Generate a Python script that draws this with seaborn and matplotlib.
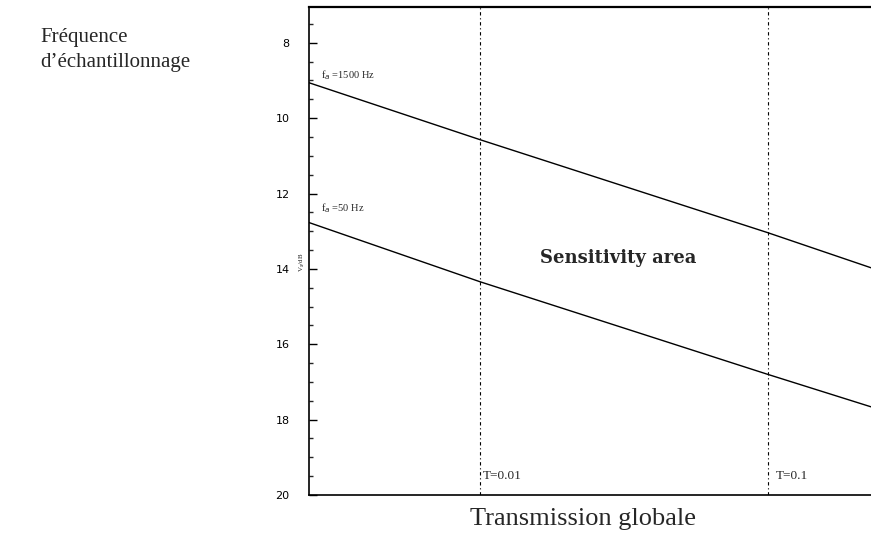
import matplotlib
matplotlib.use("Agg")
import matplotlib.pyplot as plt
from matplotlib.ticker import MultipleLocator, NullLocator
import seaborn as sns
import pandas as pd

# Data
T_values = [0.00255, 0.01, 0.1, 0.228]
snr_1500 = [9.06, 10.57, 13.04, 13.97]
snr_50 = [12.77, 14.34, 16.80, 17.66]
curve_labels = ["f$_{a}$ =1500 Hz", "f$_{a}$ =50 Hz"]
curve_label_y = [8.85, 12.38]
vlines_T = [0.01, 0.1]
vline_labels = ["T=0.01", "T=0.1"]
y_ticks = [8, 10, 12, 14, 16, 18, 20]

df = pd.DataFrame({
    "T": T_values * 2,
    "snr": snr_1500 + snr_50,
    "curve": [curve_labels[0]] * len(T_values) + [curve_labels[1]] * len(T_values),
})

sns.set_theme(style="white")
plt.rcParams["font.family"] = ["Liberation Serif", "DejaVu Serif"]

fig = plt.figure(figsize=(8.71, 5.37), dpi=100)
ax = fig.add_axes([309 / 871, 1 - 495 / 537, 1 - 309 / 871, (495 - 7) / 537])

sns.lineplot(data=df, x="T", y="snr", units="curve", estimator=None,
             color="black", linewidth=1.0, ax=ax, legend=False)

ax.set_xscale("log")
ax.set_xlim(T_values[0], T_values[-1])
ax.set_ylim(20, 7.05)

for t, lab, off in zip(vlines_T, vline_labels, [1.02, 1.065]):
    ax.axvline(t, color="black", linewidth=0.8, linestyle=(0, (3, 2.5, 1, 2.5)))
    ax.text(t * off, 19.5, lab, fontsize=9.5, ha="left", va="center")

for lab, yv in zip(curve_labels, curve_label_y):
    ax.text(T_values[0] * 1.1, yv, lab, fontsize=7.5, ha="left", va="center")

ax.text(0.0301, 13.7, "Sensitivity area", fontsize=13, fontweight="bold",
        fontfamily="DejaVu Serif", ha="center", va="center")

ax.set_yticks(y_ticks)
ax.set_yticklabels([str(v) for v in y_ticks], fontsize=8,
                   fontfamily="DejaVu Sans")
ax.yaxis.set_minor_locator(MultipleLocator(0.5))
ax.xaxis.set_major_locator(NullLocator())
ax.xaxis.set_minor_locator(NullLocator())
ax.tick_params(axis="y", which="major", direction="in", length=6, width=1,
               pad=14, colors="black", left=True)
ax.tick_params(axis="y", which="minor", direction="in", length=3, width=1, left=True)
ax.set_xlabel("")
ax.set_ylabel("")

for side in ["left", "bottom", "top"]:
    ax.spines[side].set_visible(True)
    ax.spines[side].set_color("black")
    ax.spines[side].set_linewidth(1.2)
ax.spines["top"].set_linewidth(1.6)
ax.spines["right"].set_visible(False)

ax.text(-0.004, 0.477, "V$_s$/dB", transform=ax.transAxes, fontsize=5,
        rotation=90, ha="right", va="center")

fig.text(40 / 871, 1 - 50 / 537, "Fréquence\nd’échantillonnage", fontsize=15,
         ha="left", va="center", linespacing=1.45)
fig.text(583 / 871, 1 - 519 / 537, "Transmission globale", fontsize=19,
         ha="center", va="center")

fig.savefig("out.png", dpi=100)
